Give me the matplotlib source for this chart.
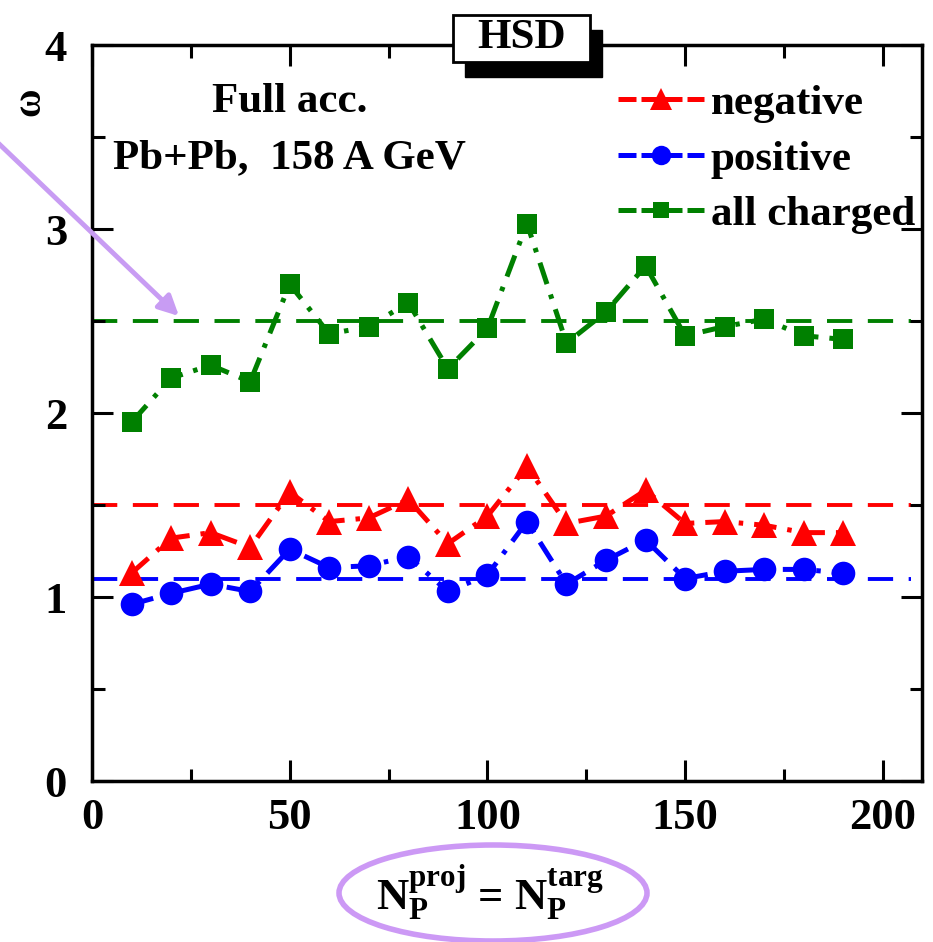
import matplotlib
matplotlib.use("Agg")
import matplotlib.pyplot as plt
from matplotlib.patches import Ellipse, Rectangle, FancyArrowPatch
from matplotlib.lines import Line2D

plt.rcParams['font.family'] = ['Liberation Serif', 'DejaVu Serif']
plt.rcParams['font.weight'] = 'bold'
plt.rcParams['mathtext.fontset'] = 'custom'
plt.rcParams['mathtext.rm'] = 'Liberation Serif:bold'
plt.rcParams['mathtext.bf'] = 'Liberation Serif:bold'

n_part = [10, 20, 30, 40, 50, 60, 70, 80, 90, 100, 110, 120, 130, 140, 150, 160, 170, 180, 190]
omega_neg = [1.13, 1.32, 1.35, 1.27, 1.57, 1.41, 1.43, 1.53, 1.29, 1.44, 1.71, 1.40, 1.44, 1.58, 1.40, 1.41, 1.39, 1.35, 1.35]
omega_pos = [0.96, 1.02, 1.07, 1.03, 1.26, 1.16, 1.17, 1.22, 1.03, 1.12, 1.41, 1.07, 1.20, 1.31, 1.10, 1.14, 1.15, 1.15, 1.13]
omega_all = [1.95, 2.19, 2.26, 2.17, 2.70, 2.43, 2.47, 2.60, 2.24, 2.46, 3.03, 2.38, 2.55, 2.80, 2.42, 2.47, 2.51, 2.42, 2.40]
ref_levels = [1.5, 1.1, 2.5]
labels = ["negative", "positive", "all charged"]
colors = ["#ff0000", "#0000ff", "#008000"]
markers = ["^", "o", "s"]
msizes = [19, 17, 15]

fig = plt.figure(figsize=(9.33, 9.42), dpi=100)
ax = fig.add_axes([0.0986, 0.1709, 0.890, 0.7813])

ls = (0, (4.5, 2.2, 0.9, 2.2))
for c, lvl in zip(colors, ref_levels):
    ax.plot([0, 207], [lvl, lvl], color=c, lw=2.8, ls=(0, (6.5, 4.0)), zorder=1)
for ys, c, m, ms in zip([omega_neg, omega_pos, omega_all], colors, markers, msizes):
    ax.plot(n_part, ys, color=c, lw=3.6, ls=ls, marker=m, markersize=ms,
            markeredgewidth=0, zorder=3)

ax.set_xlim(0, 210)
ax.set_ylim(0, 4)
ax.set_xticks([0, 50, 100, 150, 200])
ax.set_xticks([25, 75, 125, 175], minor=True)
ax.set_yticks([0, 1, 2, 3, 4])
ax.set_yticks([0.5, 1.5, 2.5, 3.5], minor=True)
ax.tick_params(which='both', direction='in', top=True, right=True, width=2.2,
               labelsize=32, pad=12)
ax.tick_params(which='major', length=15)
ax.tick_params(which='minor', length=9)
ax.tick_params(axis='y', pad=18)
for lab in ax.get_xticklabels() + ax.get_yticklabels():
    lab.set_fontweight('bold')
for s in ax.spines.values():
    s.set_linewidth(2.5)

# y label (omega)
fig.text(30 / 933, 1 - 102 / 942, "ω", rotation=90, ha='center', va='center',
         fontsize=28, fontweight='bold')

ax.text(0.238, 0.923, "Full acc.", transform=ax.transAxes, ha='center', va='center',
        fontsize=31, fontweight='bold')
ax.text(0.238, 0.846, "Pb+Pb,  158 A GeV", transform=ax.transAxes, ha='center', va='center',
        fontsize=31, fontweight='bold')

# legend
handles = [Line2D([0], [0], color=c, lw=3.6, ls=(0, (3.6, 1.0)), marker=m,
                  markersize=ms - 3, markeredgewidth=0)
           for c, m, ms in zip(colors, markers, msizes)]
leg = ax.legend(handles, labels, loc='upper right', bbox_to_anchor=(1.012, 0.97),
                frameon=False, fontsize=31, handlelength=2.0, handletextpad=0.15,
                labelspacing=0.38, borderaxespad=0)
for t in leg.get_texts():
    t.set_fontweight('bold')

# HSD box with shadow
bx0, by0, bw, bh = 453 / 933, 1 - 62 / 942, 137 / 933, 47 / 942
fig.patches.append(Rectangle((bx0 + 0.0125, by0 - 0.0155), bw, bh, transform=fig.transFigure,
                             facecolor='black', edgecolor='black', zorder=5))
fig.patches.append(Rectangle((bx0, by0), bw, bh, transform=fig.transFigure,
                             facecolor='white', edgecolor='black', lw=2, zorder=6))
fig.text(bx0 + bw / 2, by0 + bh / 2, "HSD", ha='center', va='center', fontsize=31,
         fontweight='bold', zorder=7)

# x label
fig.text(490 / 933, 1 - 893 / 942,
         r"$\mathrm{N_P^{proj}}$ = $\mathrm{N_P^{targ}}$",
         ha='center', va='center', fontsize=32, fontweight='bold')
fig.patches.append(Ellipse((493 / 933, 1 - 893 / 942), 308 / 933, 96 / 942,
                           transform=fig.transFigure, facecolor='none',
                           edgecolor='#cc99f5', lw=4))

# purple arrow
fig.add_artist(FancyArrowPatch(
    (-5 / 933, 1 - 140 / 942), (181 / 933, 1 - 318 / 942), transform=fig.transFigure,
    arrowstyle='-|>,head_length=12,head_width=6', color='#c89cf3', lw=3.5,
    mutation_scale=1))

fig.savefig("out.png", dpi=100)
